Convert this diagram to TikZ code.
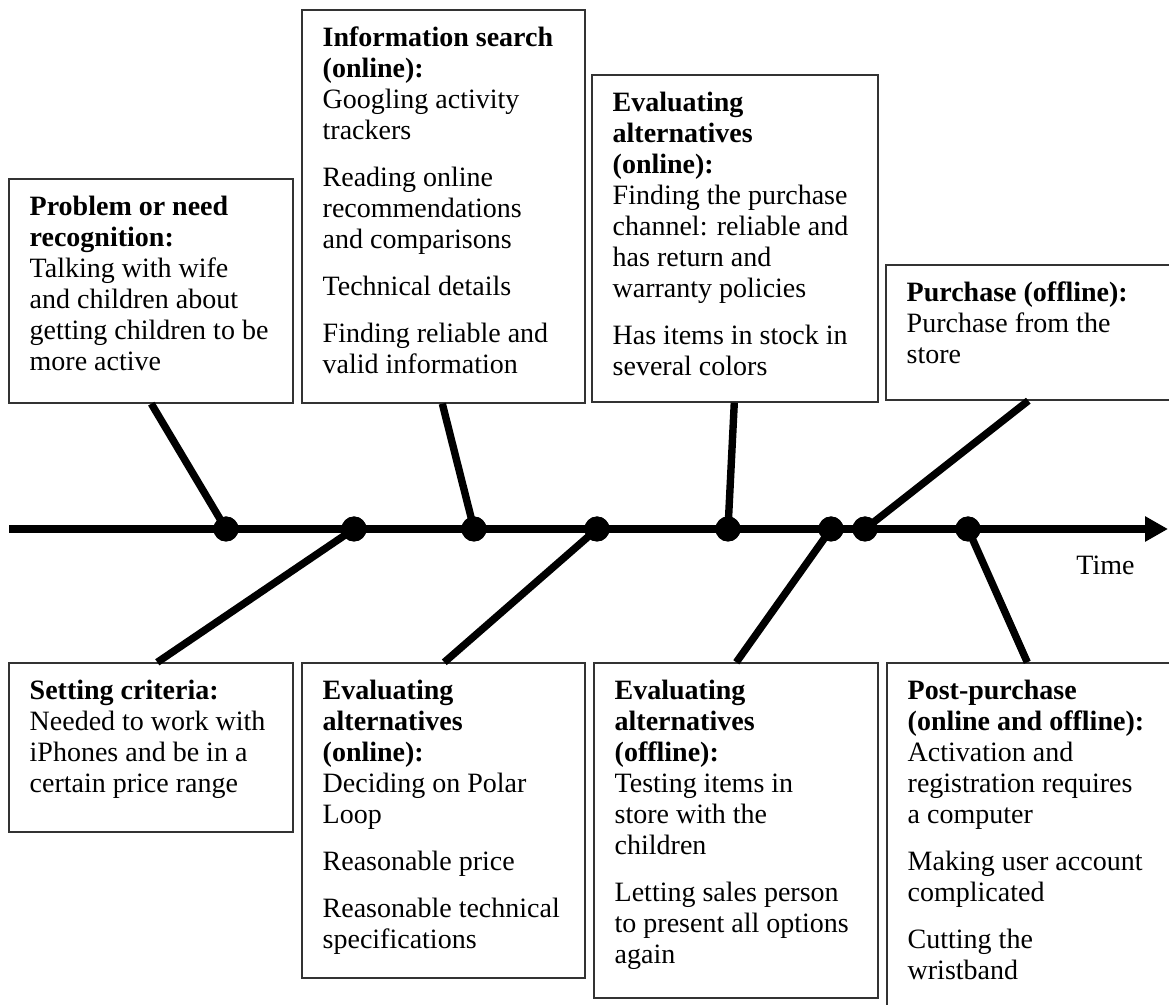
\documentclass[tikz,border=0pt]{standalone}
\usepackage{fontspec}
\setmainfont{Liberation Serif}
\usetikzlibrary{arrows.meta,calc,fit}
\tikzset{
  card/.style={draw=black!80, line width=0.7pt, fill=white, inner sep=0pt},
  cardtext/.style={anchor=north west, inner sep=0pt, align=left,
    font={\fontsize{14pt}{15.5pt}\selectfont}},
  branch/.style={line width=3.7pt},
  axisline/.style={line width=4pt, -{Triangle[length=11.5pt,width=12pt]}},
  event/.style={circle, fill=black, inner sep=0pt, minimum size=12.5pt},
}
\begin{document}
\begin{tikzpicture}[x=0.5pt, y=-0.5pt]
  \clip (0,0) rectangle (1169,1005);
  \fill[white] (0,0) rectangle (1169,1005);

  % time axis
  \coordinate (tstart) at (9,529);
  \coordinate (tend) at (1168,529);

  % events on the axis
  \node[event] (d1) at (226,529) {};
  \node[event] (d2) at (354,529) {};
  \node[event] (d3) at (474,529) {};
  \node[event] (d4) at (597,529) {};
  \node[event] (d5) at (728,529) {};
  \node[event] (d6) at (831,529) {};
  \node[event] (d7) at (865,529) {};
  \node[event] (d8) at (968,529) {};

  % stage boxes (upper row)
  \node[card, fit={(9,179) (293,403)}] (b1) {};
  \node[card, fit={(302,10) (585,403)}] (b2) {};
  \node[card, fit={(592,75) (878,402)}] (b3) {};
  \node[card, fit={(886,265) (1190,400)}] (b4) {};
  % stage boxes (lower row)
  \node[card, fit={(9,663) (293,832)}] (b5) {};
  \node[card, fit={(302,663) (585,978)}] (b6) {};
  \node[card, fit={(594,663) (878,998)}] (b7) {};
  \node[card, fit={(887,663) (1190,1030)}] (b8) {};

  % branches from the boxes to the events
  \draw[branch] ($(b1.south west)+(143,0)$) -- (d1.center);
  \draw[branch] ($(b2.south west)+(141,0)$) -- (d3.center);
  \draw[branch] ($(b3.south west)+(143,0)$) -- (d5.center);
  \draw[branch] ($(b4.south west)+(143,0)$) -- (d7.center);
  \draw[branch] ($(b5.north west)+(149,0)$) -- (d2.center);
  \draw[branch] ($(b6.north west)+(143,0)$) -- (d4.center);
  \draw[branch] ($(b7.north west)+(143,0)$) -- (d6.center);
  \draw[branch] ($(b8.north west)+(141,0)$) -- (d8.center);

  \draw[axisline] (tstart) -- (tend);
  \foreach \e in {d1,d2,d3,d4,d5,d6,d7,d8} \node[event] at (\e) {};

  % box texts
  \node[cardtext] (t1) at ($(b1.north west)+(21,17)$) {\textbf{Problem or need}\\
    \textbf{recognition:}\\ Talking with wife\\ and children about\\
    getting children to be\\ more active};
  \node[cardtext] (t2) at ($(b2.north west)+(21,17)$) {\textbf{Information search}\\
    \textbf{(online):}\\ Googling activity\\ trackers\\[8pt]
    Reading online\\ recommendations\\ and comparisons\\[8pt]
    Technical details\\[8pt]
    Finding reliable and\\ valid information};
  \node[cardtext] (t3) at ($(b3.north west)+(21,17)$) {\textbf{Evaluating}\\
    \textbf{alternatives}\\ \textbf{(online):}\\ Finding the purchase\\
    channel: reliable and\\ has return and\\ warranty policies\\[8pt]
    Has items in stock in\\ several colors};
  \node[cardtext] (t4) at ($(b4.north west)+(21,17)$) {\textbf{Purchase (offline):}\\
    Purchase from the\\ store};
  \node[cardtext] (t5) at ($(b5.north west)+(21,17)$) {\textbf{Setting criteria:}\\
    Needed to work with\\ iPhones and be in a\\ certain price range};
  \node[cardtext] (t6) at ($(b6.north west)+(21,17)$) {\textbf{Evaluating}\\
    \textbf{alternatives}\\ \textbf{(online):}\\ Deciding on Polar\\ Loop\\[8pt]
    Reasonable price\\[8pt]
    Reasonable technical\\ specifications};
  \node[cardtext] (t7) at ($(b7.north west)+(21,17)$) {\textbf{Evaluating}\\
    \textbf{alternatives}\\ \textbf{(offline):}\\ Testing items in\\
    store with the\\ children\\[8pt]
    Letting sales person\\ to present all options\\ again};
  \node[cardtext] (t8) at ($(b8.north west)+(21,17)$) {\textbf{Post-purchase}\\
    \textbf{(online and offline):}\\ Activation and\\ registration requires\\
    a computer\\[8pt]
    Making user account\\ complicated\\[8pt]
    Cutting the\\ wristband};

  \node[anchor=base west, inner sep=0pt, font={\fontsize{14pt}{15.5pt}\selectfont}]
    (time) at (1076,575) {Time};
\end{tikzpicture}
\end{document}
